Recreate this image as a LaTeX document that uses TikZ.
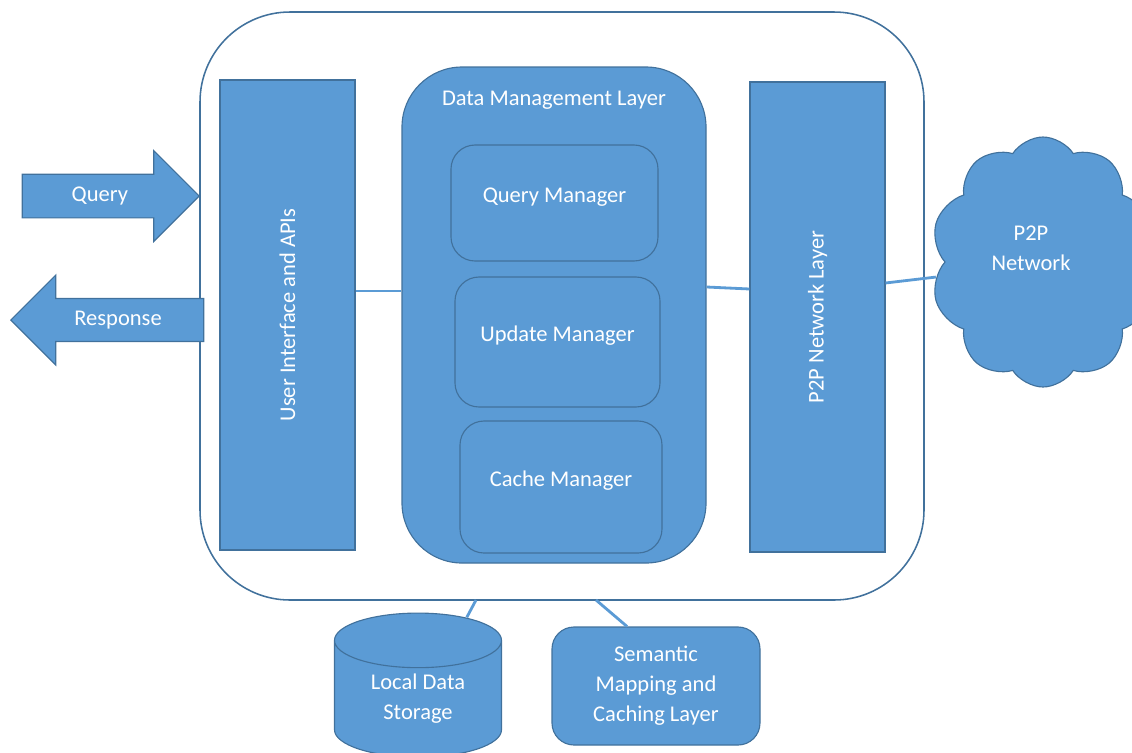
\documentclass[tikz,border=0pt]{standalone}
\usepackage{fontspec}
\setmainfont{Carlito}
\usepackage{tikz}
\usetikzlibrary{shapes.geometric,shapes.symbols,shapes.arrows}
\definecolor{boxfill}{HTML}{5B9BD5}
\definecolor{boxline}{HTML}{41719C}
\newcommand{\pxl}{0.025cm}

\begin{document}
\begin{tikzpicture}[x=0.025cm, y=-0.025cm,
    every node/.style={text=white, font=\fontsize{16}{21.3}\selectfont},
    layer/.style={draw=boxline, fill=boxfill, line width=0.8pt, inner sep=0pt},
    manager/.style={layer, rounded corners=0.6cm, text depth=0.4cm},
    bigarrow/.style={layer, single arrow, single arrow head extend=23*\pxl, inner ysep=11.5*\pxl},
    link/.style={draw=boxfill, line width=2pt}]
        \useasboundingbox (0,0) rectangle (1132,752);
        \clip (0,0) rectangle (1132,752);

        % the node and its layers
        \node [draw=boxline, line width=1.1pt, rounded corners=2.25cm, minimum width=724*\pxl, minimum height=588*\pxl] (outer) at (562,306) {};
        \node [layer, rotate=90, minimum width=470*\pxl, minimum height=135*\pxl] (ui) at (287.5,315) {User Interface and APIs};
        \node [layer, rounded corners=1.5cm, minimum width=304*\pxl, minimum height=496*\pxl,
               label={[anchor=north, yshift=-0.5cm]north:Data Management Layer}] (dml) at (554,315) {};
        \node [manager, minimum width=207*\pxl, minimum height=116*\pxl] (qm) at (554.5,203) {Query Manager};
        \node [manager, minimum width=205*\pxl, minimum height=130*\pxl] (um) at (557.5,342) {Update Manager};
        \node [manager, minimum width=202*\pxl, minimum height=132*\pxl] (cm) at (561,487) {Cache Manager};
        \node [layer, rotate=90, minimum width=470*\pxl, minimum height=135*\pxl] (p2pl) at (817.5,317) {P2P Network Layer};
        \node [layer, cloud, cloud puffs=10, cloud puff arc=115, minimum width=225*\pxl, minimum height=250*\pxl,
               label={[align=center, yshift=0.35cm, xshift=-0.3cm]center:P2P\\Network}] (net) at (1043,262) {};

        % requests in and out
        \node [bigarrow, anchor=tip, minimum height=177*\pxl, minimum width=91*\pxl] (query) at (200,196) {Query};
        \node [bigarrow, shape border rotate=180, anchor=tip, minimum height=193*\pxl, minimum width=90*\pxl] (resp) at (10,320) {Response};

        % below the node
        \node [layer, cylinder, shape border rotate=90, aspect=0.58, minimum width=167*\pxl, minimum height=144*\pxl, align=center, yshift=-0.1cm] (store) at (418,695) {Local Data\\Storage};
        \node [layer, rounded corners=0.55cm, minimum width=208*\pxl, minimum height=118*\pxl, align=center] (sem) at (656,686) {Semantic\\Mapping and\\Caching Layer};
        \coordinate (o1) at (476,600);
        \coordinate (o2) at (596,600);

        \draw [link] ([yshift=0.6cm]ui.south) -- ([yshift=0.6cm]dml.west);
        \draw [link] ([yshift=0.7cm]dml.east) -- ([yshift=0.7cm]p2pl.north);
        \draw [link] ([yshift=0.85cm]p2pl.south) -- (net.188);
        \draw [link] (o1) -- ([xshift=1.22cm, yshift=-0.12cm]store.north);
        \draw [link] (o2) -- ([xshift=-0.725cm]sem.north);
\end{tikzpicture}
\end{document}
